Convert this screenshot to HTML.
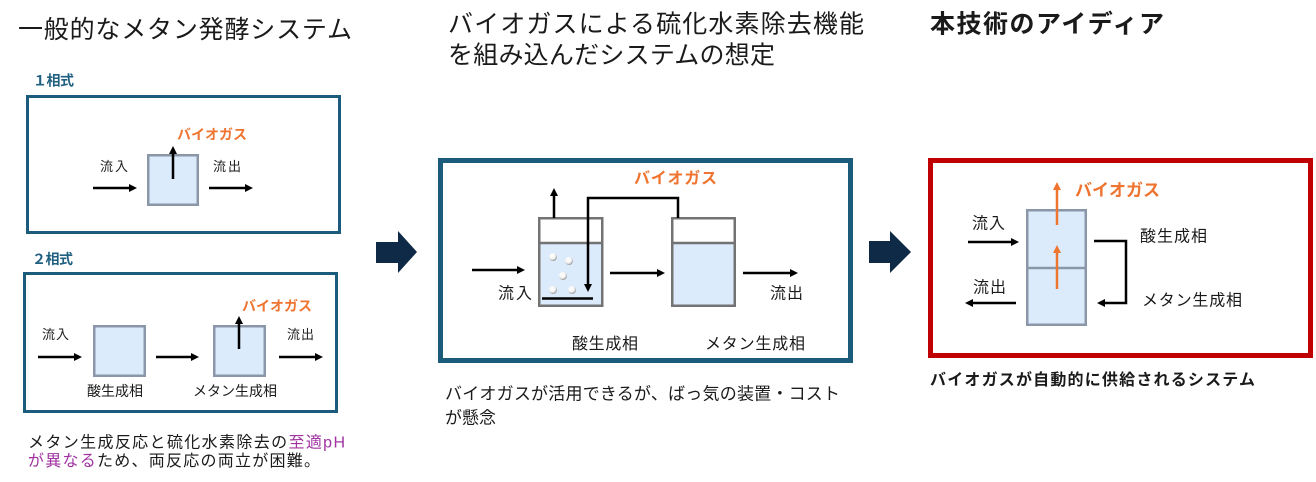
<!DOCTYPE html>
<html>
<head>
<meta charset="utf-8">
<style>
html,body{margin:0;padding:0;background:#fff;}
svg{display:block;}
text{font-family:"Liberation Sans","Noto Sans CJK JP",sans-serif;fill:#1a1a1a;}
.b{font-weight:bold;}
.or{fill:#ee7430;font-weight:bold;}
.lb{fill:#1f5f80;font-weight:bold;}
</style>
</head>
<body>
<svg width="1316" height="482" viewBox="0 0 1316 482" xmlns="http://www.w3.org/2000/svg">
<defs>
<radialGradient id="bub" cx="40%" cy="35%" r="65%">
<stop offset="0" stop-color="#ffffff"/>
<stop offset="0.6" stop-color="#f4f4f4"/>
<stop offset="1" stop-color="#9a9a9a"/>
</radialGradient>
</defs>

<!-- Titles -->
<text x="18" y="38" font-size="25" textLength="334" lengthAdjust="spacing">一般的なメタン発酵システム</text>
<text x="448" y="32.6" font-size="25" textLength="416" lengthAdjust="spacing">バイオガスによる硫化水素除去機能</text>
<text x="448" y="63.6" font-size="25" textLength="327" lengthAdjust="spacing">を組み込んだシステムの想定</text>
<text x="930" y="32.6" font-size="25" class="b" textLength="234" lengthAdjust="spacing">本技術のアイディア</text>

<!-- ===== Left panel ===== -->
<text x="33" y="85.4" font-size="14" class="lb" textLength="41" lengthAdjust="spacing">１相式</text>
<rect x="27.5" y="96.5" width="312" height="136" fill="none" stroke="#1b5c7c" stroke-width="3"/>
<rect x="148.25" y="155.25" width="49.5" height="49.5" fill="#dcebfb" stroke="#8a97a8" stroke-width="2.5"/>
<!-- up arrow -->
<line x1="173" y1="179" x2="173" y2="153" stroke="#000" stroke-width="2.5"/>
<polygon points="173,146 169,154 177,154" fill="#000"/>
<text x="177" y="139.4" font-size="14" class="or" textLength="70" lengthAdjust="spacing">バイオガス</text>
<text x="100" y="171" font-size="13" textLength="28" lengthAdjust="spacing">流入</text>
<text x="213" y="171" font-size="13" textLength="28" lengthAdjust="spacing">流出</text>
<line x1="93" y1="188" x2="130" y2="188" stroke="#000" stroke-width="2.5"/>
<polygon points="137,188 129,184 129,192" fill="#000"/>
<line x1="209" y1="188" x2="246" y2="188" stroke="#000" stroke-width="2.5"/>
<polygon points="253,188 245,184 245,192" fill="#000"/>

<text x="32" y="264" font-size="14" class="lb" textLength="41" lengthAdjust="spacing">２相式</text>
<rect x="24.5" y="273.5" width="312" height="138" fill="none" stroke="#1b5c7c" stroke-width="3"/>
<rect x="94.25" y="326.25" width="50.5" height="49.5" fill="#dcebfb" stroke="#8a97a8" stroke-width="2.5"/>
<rect x="214.25" y="326.25" width="50.5" height="49.5" fill="#dcebfb" stroke="#8a97a8" stroke-width="2.5"/>
<line x1="38" y1="357" x2="75" y2="357" stroke="#000" stroke-width="2.5"/>
<polygon points="82,357 74,353 74,361" fill="#000"/>
<line x1="156" y1="357" x2="192" y2="357" stroke="#000" stroke-width="2.5"/>
<polygon points="199,357 191,353 191,361" fill="#000"/>
<line x1="279" y1="357" x2="316" y2="357" stroke="#000" stroke-width="2.5"/>
<polygon points="323,357 315,353 315,361" fill="#000"/>
<line x1="239" y1="349" x2="239" y2="323" stroke="#000" stroke-width="2.5"/>
<polygon points="239,316 235,324 243,324" fill="#000"/>
<text x="242" y="311" font-size="14" class="or" textLength="70" lengthAdjust="spacing">バイオガス</text>
<text x="42" y="339" font-size="13" textLength="27" lengthAdjust="spacing">流入</text>
<text x="287" y="339" font-size="13" textLength="27" lengthAdjust="spacing">流出</text>
<text x="87" y="396" font-size="14" textLength="56" lengthAdjust="spacing">酸生成相</text>
<text x="193" y="396" font-size="14" textLength="84" lengthAdjust="spacing">メタン生成相</text>

<text x="28" y="447.7" font-size="16" textLength="317" lengthAdjust="spacing">メタン生成反応と硫化水素除去の<tspan fill="#a033a0">至適pH</tspan></text>
<text x="28" y="466" font-size="16" textLength="292" lengthAdjust="spacing"><tspan fill="#a033a0">が異なる</tspan>ため、両反応の両立が困難。</text>

<!-- big arrow 1 -->
<polygon points="376,242 398,242 398,231 417,252 398,273 398,263 376,263" fill="#0f2a47"/>

<!-- ===== Middle panel ===== -->
<rect x="440.5" y="160.5" width="410" height="200" fill="none" stroke="#1b5c7c" stroke-width="5"/>
<text x="634" y="183.7" font-size="16" class="or" textLength="83" lengthAdjust="spacing">バイオガス</text>
<!-- tank A -->
<rect x="539.25" y="218.25" width="63" height="25" fill="#fff" stroke="none"/>
<rect x="539.25" y="243" width="63" height="62.75" fill="#dcebfb" stroke="none"/>
<rect x="539.25" y="218.25" width="63" height="87.5" fill="none" stroke="#737373" stroke-width="2.5"/>
<line x1="539" y1="243" x2="603" y2="243" stroke="#737373" stroke-width="2.5"/>
<!-- tank B -->
<rect x="672.25" y="218.25" width="62.5" height="25" fill="#fff" stroke="none"/>
<rect x="672.25" y="243" width="62.5" height="62.75" fill="#dcebfb" stroke="none"/>
<rect x="672.25" y="218.25" width="62.5" height="87.5" fill="none" stroke="#737373" stroke-width="2.5"/>
<line x1="672" y1="243" x2="735" y2="243" stroke="#737373" stroke-width="2.5"/>
<!-- bubbles -->
<circle cx="553" cy="257" r="4" fill="url(#bub)"/>
<circle cx="569" cy="261" r="4" fill="url(#bub)"/>
<circle cx="563" cy="276" r="4" fill="url(#bub)"/>
<circle cx="553" cy="290" r="4" fill="url(#bub)"/>
<circle cx="572" cy="290" r="4" fill="url(#bub)"/>
<!-- up arrow from tank A -->
<line x1="554" y1="218" x2="554" y2="195" stroke="#000" stroke-width="2.5"/>
<polygon points="554,188 550,196 558,196" fill="#000"/>
<!-- pipe -->
<polyline points="678,218 678,198 588,198 588,285" fill="none" stroke="#000" stroke-width="2.5"/>
<polygon points="588,292 584,284 592,284" fill="#000"/>
<line x1="542" y1="298.5" x2="593" y2="298.5" stroke="#000" stroke-width="2.5"/>
<!-- flow arrows -->
<line x1="472" y1="270" x2="518" y2="270" stroke="#000" stroke-width="2.5"/>
<polygon points="525,270 517,266 517,274" fill="#000"/>
<line x1="610" y1="273" x2="658" y2="273" stroke="#000" stroke-width="2.5"/>
<polygon points="665,273 657,269 657,277" fill="#000"/>
<line x1="743" y1="273" x2="791" y2="273" stroke="#000" stroke-width="2.5"/>
<polygon points="798,273 790,269 790,277" fill="#000"/>
<text x="498" y="298.7" font-size="16" textLength="34" lengthAdjust="spacing">流入</text>
<text x="770" y="298.7" font-size="16" textLength="33" lengthAdjust="spacing">流出</text>
<text x="572" y="349" font-size="16" textLength="66" lengthAdjust="spacing">酸生成相</text>
<text x="705" y="349" font-size="16" textLength="100" lengthAdjust="spacing">メタン生成相</text>

<text x="445" y="399.7" font-size="17" textLength="395" lengthAdjust="spacing">バイオガスが活用できるが、ばっ気の装置・コスト</text>
<text x="445" y="423.7" font-size="17" textLength="51" lengthAdjust="spacing">が懸念</text>

<!-- big arrow 2 -->
<polygon points="869,241 890,241 890,231 911,252 890,273 890,263 869,263" fill="#0f2a47"/>

<!-- ===== Right panel ===== -->
<rect x="930.5" y="160.5" width="380" height="195" fill="none" stroke="#c00000" stroke-width="5"/>
<rect x="1027.25" y="210.25" width="58.5" height="114.5" fill="#dcebfb" stroke="#8a97a8" stroke-width="2.5"/>
<line x1="1027" y1="268" x2="1086" y2="268" stroke="#8a97a8" stroke-width="2.5"/>
<!-- orange arrows -->
<line x1="1057" y1="225" x2="1057" y2="189" stroke="#ee7430" stroke-width="2.5"/>
<polygon points="1057,182 1053,190 1061,190" fill="#ee7430"/>
<line x1="1057" y1="289" x2="1057" y2="252" stroke="#ee7430" stroke-width="2.5"/>
<polygon points="1057,245 1053,253 1061,253" fill="#ee7430"/>
<text x="1075" y="196" font-size="17" class="or" textLength="85" lengthAdjust="spacing">バイオガス</text>
<text x="972" y="228.7" font-size="16" textLength="33" lengthAdjust="spacing">流入</text>
<text x="973" y="292.7" font-size="16" textLength="33" lengthAdjust="spacing">流出</text>
<line x1="968" y1="242" x2="1012" y2="242" stroke="#000" stroke-width="2.5"/>
<polygon points="1019,242 1011,238 1011,246" fill="#000"/>
<line x1="1016" y1="303" x2="972" y2="303" stroke="#000" stroke-width="2.5"/>
<polygon points="965,303 973,299 973,307" fill="#000"/>
<polyline points="1094,241 1126,241 1126,303 1104,303" fill="none" stroke="#000" stroke-width="2.5"/>
<polygon points="1097,303 1105,299 1105,307" fill="#000"/>
<text x="1140" y="241.5" font-size="16" textLength="67" lengthAdjust="spacing">酸生成相</text>
<text x="1142" y="305.5" font-size="16" textLength="100" lengthAdjust="spacing">メタン生成相</text>

<text x="930" y="385" font-size="16" class="b" textLength="325" lengthAdjust="spacing">バイオガスが自動的に供給されるシステム</text>
</svg>
</body>
</html>
